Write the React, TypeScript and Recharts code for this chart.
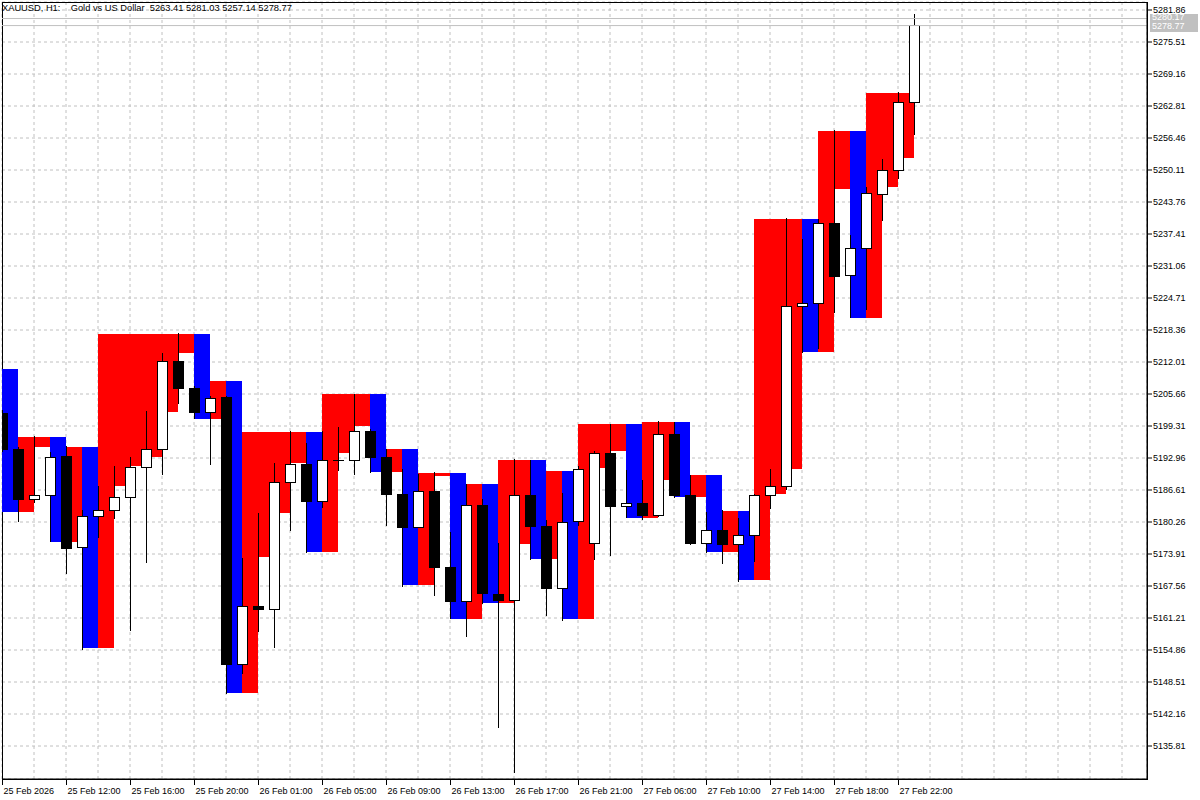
import React from 'react';
import { ComposedChart, Bar, XAxis, YAxis, CartesianGrid, ReferenceLine, ReferenceArea } from 'recharts';

const FONT = "'Liberation Sans', Arial, sans-serif";
const FS = 9;

// ---- candles (H1, XAUUSD) ----
const opens = [
  5201.83, 5194.68, 5184.76, 5185.56, 5193.22, 5175.24, 5181.39, 5182.58, 5185.16, 5191.11,
  5194.68, 5212.15, 5206.79, 5202.03, 5204.87, 5152.02, 5163.59, 5162.93, 5188.14, 5191.77,
  5184.29, 5192.50, 5192.50, 5198.31, 5193.10, 5185.75, 5179.20, 5186.41, 5171.27, 5164.52,
  5183.57, 5165.97, 5164.72, 5185.56, 5179.46, 5167.02, 5180.32, 5176.03, 5193.89, 5183.37,
  5183.97, 5181.59, 5197.72, 5185.56, 5176.03, 5178.61, 5175.83, 5177.62, 5185.56, 5187.26,
  5222.98, 5223.66, 5239.59, 5229.17, 5234.57, 5245.29, 5250.05, 5263.41,
];
const highs = [
  5202.48, 5195.20, 5197.32, 5194.15, 5195.34, 5182.64, 5187.46, 5191.37, 5193.16, 5202.28,
  5213.73, 5217.70, 5207.24, 5205.26, 5205.26, 5173.05, 5182.10, 5191.90, 5198.31, 5195.88,
  5198.31, 5199.17, 5205.66, 5198.71, 5194.74, 5190.71, 5189.72, 5190.24, 5178.33, 5187.80,
  5184.88, 5176.03, 5192.76, 5192.56, 5180.65, 5185.95, 5191.37, 5194.35, 5199.70, 5190.58,
  5188.59, 5200.30, 5200.10, 5189.58, 5182.30, 5182.64, 5180.99, 5185.81, 5190.71, 5240.52,
  5236.36, 5240.39, 5258.05, 5237.21, 5246.80, 5252.23, 5265.59, 5281.03,
];
const lows = [
  5194.15, 5180.32, 5183.97, 5176.35, 5169.94, 5154.86, 5177.02, 5180.85, 5158.69, 5172.18,
  5189.64, 5203.61, 5200.64, 5191.57, 5146.07, 5150.04, 5158.49, 5155.31, 5178.53, 5174.05,
  5182.98, 5190.44, 5189.64, 5189.92, 5179.52, 5167.42, 5179.06, 5165.57, 5160.95, 5157.50,
  5163.92, 5139.44, 5130.39, 5172.72, 5161.60, 5160.71, 5179.46, 5172.72, 5173.57, 5180.99,
  5180.65, 5181.35, 5184.96, 5175.63, 5174.16, 5171.92, 5168.41, 5172.38, 5182.89, 5186.61,
  5213.73, 5214.59, 5221.83, 5220.68, 5222.33, 5240.05, 5248.38, 5257.14,
];
const closes = [
  5194.68, 5184.76, 5185.56, 5193.10, 5174.96, 5181.45, 5182.58, 5185.16, 5191.11, 5194.68,
  5212.15, 5206.71, 5201.95, 5204.81, 5152.02, 5163.53, 5162.89, 5188.14, 5191.71, 5184.29,
  5192.50, 5192.46, 5198.31, 5193.02, 5185.75, 5179.20, 5186.35, 5171.19, 5164.44, 5183.49,
  5166.11, 5164.64, 5185.48, 5179.32, 5167.02, 5180.20, 5190.71, 5193.89, 5183.29, 5183.89,
  5181.51, 5197.72, 5185.48, 5176.03, 5178.61, 5175.75, 5177.54, 5185.56, 5187.34, 5223.06,
  5223.58, 5239.53, 5228.93, 5234.57, 5245.35, 5250.05, 5263.41, 5278.77,
];

// ---- indicator blocks (drawn between bar i and bar i+1) ----
const blockHigh = [
  5210.62, 5197.18, 5197.18, 5197.18, 5195.20, 5195.20, 5217.56, 5217.56, 5217.56, 5217.56,
  5217.56, 5217.56, 5217.56, 5208.24, 5208.24, 5198.17, 5198.17, 5198.17, 5198.17, 5198.17,
  5205.66, 5205.66, 5205.66, 5205.66, 5194.74, 5194.74, 5189.92, 5189.92, 5189.92, 5187.80,
  5187.80, 5192.56, 5192.56, 5192.56, 5190.44, 5190.44, 5199.70, 5199.70, 5199.70, 5199.70,
  5200.04, 5200.04, 5200.04, 5189.58, 5189.58, 5182.44, 5182.44, 5240.39, 5240.39, 5240.39,
  5240.39, 5257.91, 5257.91, 5257.91, 5265.45, 5265.45, 5265.45,
];
const blockLow = [
  5182.30, 5182.30, 5195.20, 5176.35, 5176.35, 5155.31, 5155.31, 5187.46, 5191.43, 5193.22,
  5202.14, 5213.85, 5200.76, 5200.76, 5146.38, 5146.38, 5173.25, 5181.98, 5192.02, 5174.36,
  5174.36, 5193.89, 5199.31, 5190.24, 5190.24, 5167.81, 5167.81, 5189.44, 5160.95, 5160.95,
  5164.24, 5164.24, 5175.89, 5172.91, 5172.91, 5160.95, 5160.95, 5190.91, 5194.41, 5181.11,
  5181.11, 5188.59, 5185.28, 5185.28, 5174.36, 5174.36, 5168.75, 5168.75, 5185.75, 5190.83,
  5214.05, 5214.05, 5246.34, 5220.80, 5220.80, 5246.80, 5252.43,
];
const blockColor = [
  'b', 'r', 'r', 'b', 'r', 'b', 'r', 'r', 'r', 'r',
  'r', 'r', 'b', 'r', 'b', 'r', 'r', 'r', 'r', 'b',
  'r', 'r', 'r', 'b', 'r', 'b', 'r', 'r', 'b', 'r',
  'b', 'r', 'r', 'b', 'r', 'b', 'r', 'r', 'r', 'b',
  'r', 'r', 'b', 'r', 'b', 'r', 'b', 'r', 'r', 'r',
  'b', 'r', 'r', 'b', 'r', 'r', 'r',
];

// ---- axes ----
const xLabelIndex = [0, 4, 8, 12, 16, 20, 24, 28, 32, 36, 40, 44, 48, 52, 56];
const xLabelText = [
  '25 Feb 2026', '25 Feb 12:00', '25 Feb 16:00', '25 Feb 20:00', '26 Feb 01:00',
  '26 Feb 05:00', '26 Feb 09:00', '26 Feb 13:00', '26 Feb 17:00', '26 Feb 21:00',
  '27 Feb 06:00', '27 Feb 10:00', '27 Feb 14:00', '27 Feb 18:00', '27 Feb 22:00',
];
const xGridTicks = [
  0, 2, 4, 6, 8, 10, 12, 14, 16, 18, 20, 22, 24, 26, 28, 30, 32, 34, 36, 38,
  40, 42, 44, 46, 48, 50, 52, 54, 56, 58, 60, 62, 64, 66, 68, 70,
];
const yTicks = [
  5135.81, 5142.16, 5148.51, 5154.86, 5161.21, 5167.56, 5173.91, 5180.26, 5186.61, 5192.96,
  5199.31, 5205.66, 5212.01, 5218.36, 5224.71, 5231.06, 5237.41, 5243.76, 5250.11, 5256.46,
  5262.81, 5269.16, 5275.51, 5281.86,
];
const X_MIN = 0;
const X_MAX = 71.5625;
const Y_MIN = 5129.263;
const Y_MAX = 5283.4475;
const ASK = 5280.17;
const BID = 5278.77;
const TITLE = 'XAUUSD, H1:    Gold vs US Dollar  5263.41 5281.03 5257.14 5278.77';

const labelMap: Record<number, string> = {};
xLabelIndex.forEach((v, i) => { labelMap[v] = xLabelText[i]; });

const rows = opens.map((o, i) => ({
  i,
  o,
  h: highs[i],
  l: lows[i],
  c: closes[i],
  bh: i < blockHigh.length ? blockHigh[i] : null,
  bl: i < blockLow.length ? blockLow[i] : null,
  bc: i < blockColor.length ? blockColor[i] : null,
}));

const BlockShape = (props: any) => {
  const { x, y, width, height, payload } = props;
  if (!payload || payload.bh == null || !isFinite(y)) return null;
  const cx = Math.round(x + width / 2);
  return (
    <rect
      x={cx}
      y={y}
      width={Math.round(width)}
      height={Math.max(height, 1)}
      fill={payload.bc === 'r' ? '#ff0000' : '#0000ff'}
      shapeRendering="crispEdges"
    />
  );
};

const CandleShape = (props: any) => {
  const { x, y, width, height, payload } = props;
  if (!payload || !isFinite(y)) return null;
  const { o, h, l, c } = payload;
  const py = (v: number) => y + ((h - v) / (h - l)) * height;
  const cx = Math.round(x + width / 2) + 0.5;
  const top = Math.min(py(o), py(c));
  const bot = Math.max(py(o), py(c));
  const bull = c >= o;
  return (
    <g>
      <line x1={cx} x2={cx} y1={py(h)} y2={py(l)} stroke="#000" strokeWidth={1} shapeRendering="crispEdges" />
      <rect
        x={cx - 5}
        y={top}
        width={10}
        height={Math.max(bot - top, 0)}
        fill={bull ? '#ffffff' : '#000000'}
        stroke="#000"
        strokeWidth={1}
        shapeRendering="crispEdges"
      />
    </g>
  );
};

const XTick = (props: any) => {
  const { x, y, payload } = props;
  const label = labelMap[payload.value];
  if (!label) return null;
  const px = Math.round(x) + 0.5;
  return (
    <g>
      <line x1={px} x2={px} y1={y} y2={y + 6} stroke="#000" shapeRendering="crispEdges" />
      <text x={px + 1} y={y + 15} fontSize={FS} fontFamily={FONT} fill="#000">{label}</text>
    </g>
  );
};

const PriceTag = (props: any) => {
  const vb = props.viewBox || {};
  const right = (vb.x || 0) + (vb.width || 0);
  const yy = vb.y || 0;
  const up = props.up;
  return (
    <g>
      <rect
        x={right + 3}
        y={up ? yy - 5 : yy - 5}
        width={48}
        height={up ? 9 : 11}
        fill="#c0c0c0"
        shapeRendering="crispEdges"
      />
      <text x={right + 5} y={up ? yy + 1.5 : yy + 3.5} fontSize={FS} fontFamily={FONT} fill="#ffffff">{props.text}</text>
    </g>
  );
};

const BorderShape = (p: any) => (
  <rect x={p.x} y={p.y} width={p.width} height={p.height} fill="none" stroke="#000" strokeWidth={1} shapeRendering="crispEdges" />
);

export default function App() {
  return (
    <div style={{ position: 'relative', width: 1200, height: 800, background: '#fff' }}>
      <style>{'body{margin:0;background:#fff;}'}</style>
      <ComposedChart
        width={1200}
        height={800}
        data={rows}
        margin={{ top: 2, right: 0, bottom: 0, left: 2 }}
        barCategoryGap={0}
        barGap={0}
      >
        <XAxis xAxisId="blk" dataKey="i" type="number" domain={[X_MIN, X_MAX]} allowDataOverflow hide />
        <XAxis
          dataKey="i"
          type="number"
          domain={[X_MIN, X_MAX]}
          allowDataOverflow
          ticks={xGridTicks}
          interval={0}
          tick={<XTick />}
          tickLine={false}
          tickSize={0}
          tickMargin={0}
          axisLine={{ stroke: '#000' }}
          height={21}
        />
        <YAxis
          orientation="right"
          type="number"
          domain={[Y_MIN, Y_MAX]}
          allowDataOverflow
          ticks={yTicks}
          interval={0}
          width={53}
          tickSize={5}
          tickMargin={1}
          tick={{ fill: '#000', fontSize: FS, fontFamily: FONT }}
          tickFormatter={(v: number) => v.toFixed(2)}
          axisLine={{ stroke: '#000' }}
          tickLine={{ stroke: '#000' }}
        />
        <Bar
          xAxisId="blk"
          dataKey={(r: any) => (r.bh == null ? null : [r.bl, r.bh])}
          shape={<BlockShape />}
          isAnimationActive={false}
        />
        <CartesianGrid stroke="#c0c0c0" strokeDasharray="3 3" />
        <ReferenceLine y={ASK} stroke="#c0c0c0" label={(p: any) => <PriceTag {...p} up text={ASK.toFixed(2)} />} />
        <ReferenceLine y={BID} stroke="#c0c0c0" label={(p: any) => <PriceTag {...p} text={BID.toFixed(2)} />} />
        <Bar
          dataKey={(r: any) => [r.l, r.h]}
          shape={<CandleShape />}
          isAnimationActive={false}
        />
        <ReferenceArea x1={X_MIN} x2={X_MAX} y1={Y_MIN} y2={Y_MAX} shape={<BorderShape />} />
      </ComposedChart>
      <div
        style={{
          position: 'absolute',
          left: 2,
          top: 3,
          fontFamily: FONT,
          fontSize: 9.3,
          lineHeight: '11px',
          whiteSpace: 'pre',
          color: '#000',
        }}
      >
        {TITLE}
      </div>
    </div>
  );
}
